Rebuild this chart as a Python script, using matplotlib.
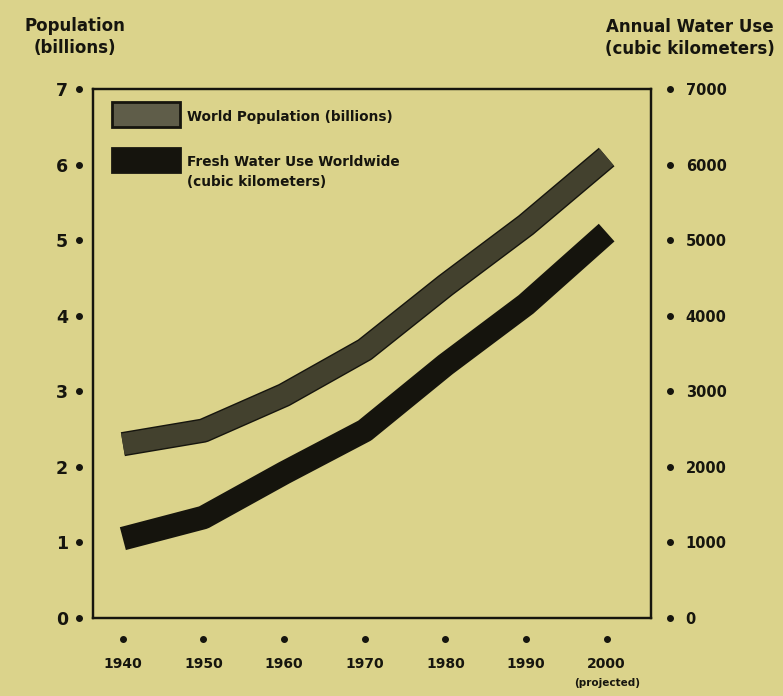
import matplotlib
matplotlib.use("Agg")
import matplotlib.pyplot as plt
import matplotlib.patches as mpatches
import matplotlib.patheffects as pe
from matplotlib.transforms import blended_transform_factory, ScaledTranslation
import numpy as np

# ── Data ─────────────────────────────────────────────────────────────────────
YEARS = [1940, 1950, 1960, 1970, 1980, 1990, 2000]
YEAR_LABELS = ["1940", "1950", "1960", "1970", "1980", "1990", "2000"]
POPULATION = [2.3, 2.48, 2.95, 3.55, 4.4, 5.2, 6.1]          # billions
WATER_USE = [1050, 1330, 1920, 2480, 3350, 4150, 5100]        # km³ / year

POP_TICKS = [0, 1, 2, 3, 4, 5, 6, 7]
WATER_TICKS = [0, 1000, 2000, 3000, 4000, 5000, 6000, 7000]

# ── Style ────────────────────────────────────────────────────────────────────
BG = "#dbd38b"
INK = "#16150e"
COL_POP = "#43412e"
COL_WATER = "#15140d"
FONT = "DejaVu Sans"

fig = plt.figure(figsize=(7.83, 6.96), dpi=100)
fig.patch.set_facecolor(BG)

ax = fig.add_axes([0.1188, 0.1121, 0.7126, 0.760])
ax.set_facecolor(BG)
ax2 = ax.twinx()
ax2.patch.set_visible(False)

ax.set_xlim(1936.3, 2005.5)
ax.set_ylim(0, 7)
ax2.set_ylim(0, 7000)

# ── Lines ────────────────────────────────────────────────────────────────────
stroke = [pe.Stroke(linewidth=17.5, foreground=INK), pe.Normal()]
ax.plot(YEARS, POPULATION, color=COL_POP, lw=15.5, solid_capstyle="butt",
        solid_joinstyle="round", path_effects=stroke, zorder=3)
ax2.plot(YEARS, WATER_USE, color=COL_WATER, lw=17, solid_capstyle="butt",
         solid_joinstyle="round", zorder=3)

# ── Frame & ticks ────────────────────────────────────────────────────────────
for a in (ax, ax2):
    for s in a.spines.values():
        s.set_color(INK)
        s.set_linewidth(1.6)

ax.set_xticks(YEARS)
ax.set_xticklabels(YEAR_LABELS, fontsize=10, fontweight="bold", fontname=FONT)
ax.set_yticks(POP_TICKS)
ax.set_yticklabels([str(t) for t in POP_TICKS], fontsize=12.5,
                   fontweight="bold", fontname=FONT)
ax2.set_yticks(WATER_TICKS)
ax2.set_yticklabels([str(t) for t in WATER_TICKS], fontsize=10.5,
                    fontweight="bold", fontname=FONT)
ax.tick_params(axis="x", length=0, pad=28, colors=INK)
ax.tick_params(axis="y", length=0, pad=18, colors=INK)
ax2.tick_params(axis="y", length=0, pad=25, colors=INK)

# dot "tick marks" set off from the frame
dot = dict(marker="o", ls="none", ms=4, color=INK, clip_on=False, zorder=5)
tl = blended_transform_factory(ax.transAxes, ax.transData) + \
    ScaledTranslation(-0.14, 0, fig.dpi_scale_trans)
ax.plot(np.zeros(len(POP_TICKS)), POP_TICKS, transform=tl, **dot)
tr = blended_transform_factory(ax2.transAxes, ax2.transData) + \
    ScaledTranslation(0.19, 0, fig.dpi_scale_trans)
ax2.plot(np.ones(len(WATER_TICKS)), WATER_TICKS, transform=tr, **dot)
tb = blended_transform_factory(ax.transData, ax.transAxes) + \
    ScaledTranslation(0, -0.21, fig.dpi_scale_trans)
ax.plot(YEARS, np.zeros(len(YEARS)), transform=tb, **dot)

ax.text(2000, -0.123, "(projected)", transform=blended_transform_factory(
    ax.transData, ax.transAxes), ha="center", va="center", fontsize=7.5,
    fontweight="bold", fontname=FONT, color=INK)

# ── Legend (drawn by hand) ───────────────────────────────────────────────────
ax.add_patch(mpatches.Rectangle((0.034, 0.928), 0.122, 0.047,
             transform=ax.transAxes, facecolor="#5f5d49", edgecolor=INK,
             linewidth=2, zorder=4))
ax.add_patch(mpatches.Rectangle((0.034, 0.843), 0.122, 0.046,
             transform=ax.transAxes, facecolor=COL_WATER, edgecolor=INK,
             linewidth=2, zorder=4))
leg = dict(transform=ax.transAxes, fontsize=9.8, fontweight="bold",
           fontname=FONT, color=INK, va="center", ha="left", zorder=5)
ax.text(0.168, 0.947, "World Population (billions)", **leg)
ax.text(0.168, 0.862, "Fresh Water Use Worldwide", **leg)
ax.text(0.168, 0.824, "(cubic kilometers)", **leg)

# ── Axis titles ──────────────────────────────────────────────────────────────
ttl = dict(fontsize=12, fontweight="bold", fontname=FONT, color=INK,
           ha="center", va="center")
fig.text(75 / 783, 1 - 26 / 696, "Population", **ttl)
fig.text(75 / 783, 1 - 48 / 696, "(billions)", **ttl)
fig.text(690 / 783, 1 - 27 / 696, "Annual Water Use", **ttl)
fig.text(690 / 783, 1 - 49 / 696, "(cubic kilometers)", **ttl)

fig.savefig("out.png", dpi=100, facecolor=BG)
